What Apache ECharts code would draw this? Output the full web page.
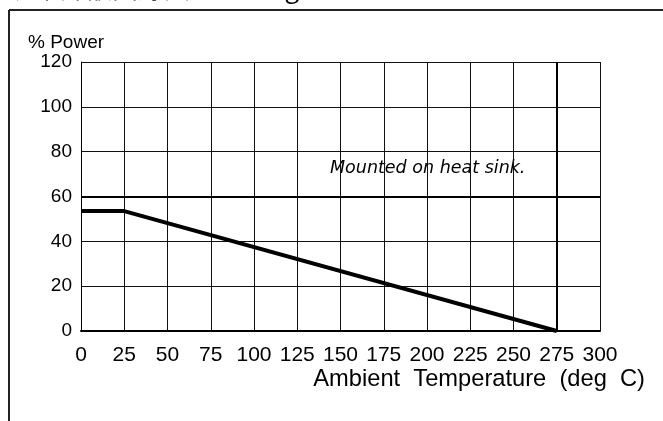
<!DOCTYPE html>
<html>
<head>
<meta charset="utf-8">
<script src="https://cdn.jsdelivr.net/npm/echarts@6/dist/echarts.min.js"></script>
<style>
html,body{margin:0;padding:0;background:#fff;}
#chart{width:663px;height:421px;}
</style>
</head>
<body>
<div id="chart"></div>
<script>
// ---- data ----
const xTicks = [0, 25, 50, 75, 100, 125, 150, 175, 200, 225, 250, 275, 300];
const yTicks = [0, 20, 40, 60, 80, 100, 120];
const deratingTemp = [0, 25, 275];
const deratingPower = [53.5, 53.5, 0];
const refPower = 60;
const refTemp = 275;
const yName = '% Power';
const xName = 'Ambient  Temperature  (deg  C)';
const note = 'Mounted on heat sink.';
const title = '功率降額曲線圖 Derating';

const FONT = '"Liberation Sans", Arial, sans-serif';
const chart = echarts.init(document.getElementById('chart'), null, {renderer: 'canvas'});

chart.setOption({
  animation: false,
  backgroundColor: '#fff',
  grid: {left: 81, right: 63, top: 62, bottom: 90, containLabel: false},
  xAxis: {
    type: 'value', min: xTicks[0], max: xTicks[xTicks.length - 1], interval: 25,
    axisLine: {show: true, onZero: false, lineStyle: {color: '#000', width: 2}},
    axisTick: {show: false},
    axisLabel: {color: '#000', fontSize: 21, fontFamily: FONT, margin: 14},
    splitLine: {show: true, lineStyle: {color: '#111', width: 1}}
  },
  yAxis: {
    type: 'value', min: yTicks[0], max: yTicks[yTicks.length - 1], interval: 20,
    axisLine: {show: true, lineStyle: {color: '#000', width: 1}},
    axisTick: {show: false},
    axisLabel: {color: '#000', fontSize: 19, fontFamily: FONT, margin: 9},
    splitLine: {show: true, lineStyle: {color: '#111', width: 1}}
  },
  series: [{
    type: 'line',
    data: deratingTemp.map((t, i) => [t, deratingPower[i]]),
    symbol: 'none',
    lineStyle: {color: '#000', width: 4},
    z: 5,
    markLine: {
      silent: true, symbol: 'none', label: {show: false},
      lineStyle: {color: '#000', width: 2, type: 'solid'},
      data: [{yAxis: refPower}, {xAxis: refTemp}]
    }
  }],
  graphic: [
    {type: 'line', shape: {x1: 9, y1: 10, x2: 663, y2: 10}, style: {stroke: '#222', lineWidth: 2}},
    {type: 'line', shape: {x1: 9, y1: 10, x2: 9, y2: 421}, style: {stroke: '#222', lineWidth: 2}},
    {type: 'text', x: 8, y: 1, style: {text: title, fill: '#000', font: '26px "Noto Sans CJK SC", sans-serif', textVerticalAlign: 'bottom'}},
    {type: 'text', x: 28, y: 43, style: {text: yName, fill: '#000', font: '19px ' + FONT, textVerticalAlign: 'middle'}},
    {type: 'text', x: 645, y: 379, style: {text: xName, fill: '#000', font: '23.7px ' + FONT, textAlign: 'right', textVerticalAlign: 'middle'}},
    {type: 'text', x: 330, y: 168, style: {text: note, fill: '#000', font: 'italic 17.5px "DejaVu Sans", sans-serif', textVerticalAlign: 'middle'}}
  ]
});
</script>
</body>
</html>
